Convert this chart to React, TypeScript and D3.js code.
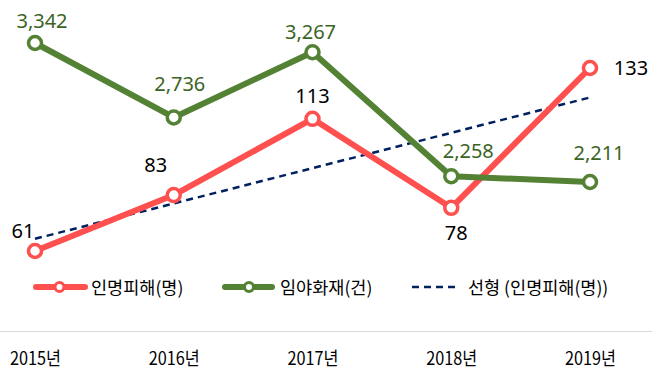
import React from "react";
import * as d3 from "d3";

const years = ["2015년", "2016년", "2017년", "2018년", "2019년"];
const casualties = [61, 83, 113, 78, 133];
const fires = [3342, 2736, 3267, 2258, 2211];
const seriesNames = ["인명피해(명)", "임야화재(건)", "선형 (인명피해(명))"];

const RED = "#FF5050";
const GREEN = "#548235";
const GREEN_TXT = "#3B6424";
const NAVY = "#002060";

// label offsets [dx, dy] relative to point
const redOff: [number, number][] = [[-12, -13], [-18, -23], [0, -16], [5, 32], [41, 7]];
const greenOff: [number, number][] = [[7, -15], [6, -26.5], [-2, -13], [17, -18], [9, -22]];

export default function App() {
  const W = 652, H = 381;
  const x = d3.scalePoint<string>().domain(years).range([35, 590]);
  const yR = d3.scaleLinear().domain([61, 133]).range([251, 68]);
  const yG = d3.scaleLinear().domain([2211, 3342]).range([182, 43]);

  // linear trend
  const n = casualties.length;
  const xs = casualties.map((_, i) => i + 1);
  const mx = d3.mean(xs)!, my = d3.mean(casualties)!;
  const slope = d3.sum(xs.map((xi, i) => (xi - mx) * (casualties[i] - my))) / d3.sum(xs.map((xi) => (xi - mx) ** 2));
  const icpt = my - slope * mx;
  const t0 = icpt + slope * 1, t1 = icpt + slope * n;

  const lineR = d3.line<number>().x((_, i) => x(years[i])!).y((d) => yR(d));
  const lineG = d3.line<number>().x((_, i) => x(years[i])!).y((d) => yG(d));
  const font = "'Noto Sans', 'Noto Sans CJK KR', sans-serif";
  const ly = 287;

  return (
    <svg width={W} height={H} style={{ position: "absolute", left: 0, top: 0, background: "#fff" }} fontFamily={font}>
      <line x1={0} x2={W} y1={331.5} y2={331.5} stroke="#D9D9D9" strokeWidth={1} />
      <line x1={x(years[0])} y1={yR(t0)} x2={x(years[n - 1])} y2={yR(t1)} stroke={NAVY} strokeWidth={2.5} strokeDasharray="7,5" />
      <path d={lineR(casualties)!} fill="none" stroke={RED} strokeWidth={6} strokeLinejoin="round" />
      <path d={lineG(fires)!} fill="none" stroke={GREEN} strokeWidth={6} strokeLinejoin="round" />
      {casualties.map((v, i) => (
        <circle key={"r" + i} cx={x(years[i])} cy={yR(v)} r={6.5} fill="#fff" stroke={RED} strokeWidth={3.5} />
      ))}
      {fires.map((v, i) => (
        <circle key={"g" + i} cx={x(years[i])} cy={yG(v)} r={6.5} fill="#fff" stroke={GREEN} strokeWidth={3.5} />
      ))}
      {casualties.map((v, i) => (
        <text key={"rt" + i} x={x(years[i])! + redOff[i][0]} y={yR(v) + redOff[i][1]} textAnchor="middle" fontSize={20} fill="#000">
          {d3.format(",")(v)}
        </text>
      ))}
      {fires.map((v, i) => (
        <text key={"gt" + i} x={x(years[i])! + greenOff[i][0]} y={yG(v) + greenOff[i][1]} textAnchor="middle" fontSize={20} fill={GREEN_TXT}>
          {d3.format(",")(v)}
        </text>
      ))}
      {/* legend */}
      <g fontSize={17.5} fill="#000" fontFamily="'Noto Sans CJK KR', sans-serif">
        <line x1={36} x2={85} y1={ly} y2={ly} stroke={RED} strokeWidth={6} strokeLinecap="round" />
        <circle cx={59.5} cy={ly} r={4.5} fill="#fff" stroke={RED} strokeWidth={3} />
        <text x={91} y={ly + 7}>{seriesNames[0]}</text>
        <line x1={225} x2={272} y1={ly} y2={ly} stroke={GREEN} strokeWidth={6} strokeLinecap="round" />
        <circle cx={249} cy={ly} r={4.5} fill="#fff" stroke={GREEN} strokeWidth={3} />
        <text x={280} y={ly + 7}>{seriesNames[1]}</text>
        <line x1={412} x2={456} y1={ly} y2={ly} stroke={NAVY} strokeWidth={2.5} strokeDasharray="7,5" />
        <text x={468} y={ly + 7}>{seriesNames[2]}</text>
      </g>
      {years.map((y) => (
        <text key={y} x={x(y)! - 25} y={365} textLength={51} lengthAdjust="spacingAndGlyphs" fontSize={18} fill="#000" fontFamily="'Noto Sans CJK KR', sans-serif">
          {y}
        </text>
      ))}
    </svg>
  );
}
